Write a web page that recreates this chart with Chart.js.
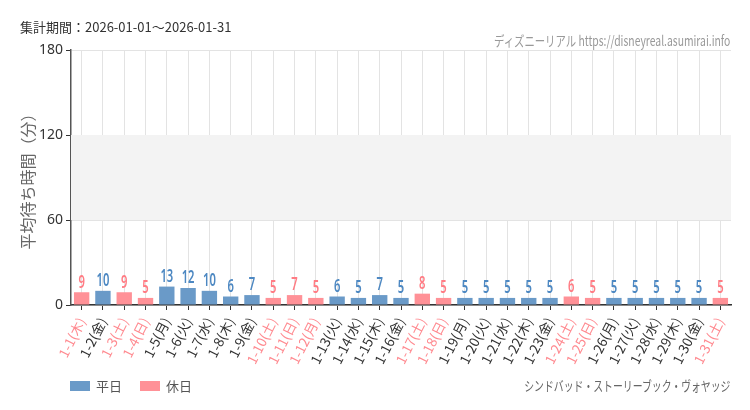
<!DOCTYPE html>
<html lang="ja">
<head>
<meta charset="utf-8">
<script src="https://cdn.jsdelivr.net/npm/chart.js@4/dist/chart.umd.min.js"></script>
<style>
  body { margin: 0; background: #fff; font-family: "Noto Sans CJK JP", "Noto Sans", sans-serif; }
  #wrap { position: relative; width: 750px; height: 410px; }
  canvas { position: absolute; left: 0; top: 0; }
  .txt { position: absolute; white-space: nowrap; }
  #period { left: 20px; top: 17px; font-size: 13px; color: #333; }
  #site { right: 20px; top: 30px; font-size: 14px; color: #999; transform: scaleX(0.74); transform-origin: right center; }
  #attr { right: 20px; top: 375px; font-size: 13.5px; color: #666; transform: scaleX(0.73); transform-origin: right center; }
  #legend { left: 70px; top: 376px; font-size: 13px; color: #555; display: flex; align-items: center; }
  #legend span.box { display: inline-block; width: 20px; height: 10px; margin-right: 6px; }
  #legend span.lab { margin-right: 18px; }
</style>
</head>
<body>
<div id="wrap">
  <canvas id="chart" width="750" height="410"></canvas>
  <div class="txt" id="period">集計期間：2026-01-01～2026-01-31</div>
  <div class="txt" id="site">ディズニーリアル https://disneyreal.asumirai.info</div>
  <div class="txt" id="attr">シンドバッド・ストーリーブック・ヴォヤッジ</div>
  <div class="txt" id="legend">
    <span class="box" style="background:#6a9ac8"></span><span class="lab">平日</span>
    <span class="box" style="background:#ff9197"></span><span class="lab">休日</span>
  </div>
</div>
<script>
// データ
const labels = ['1-1(木)','1-2(金)','1-3(土)','1-4(日)','1-5(月)','1-6(火)','1-7(水)','1-8(木)','1-9(金)','1-10(土)',
  '1-11(日)','1-12(月)','1-13(火)','1-14(水)','1-15(木)','1-16(金)','1-17(土)','1-18(日)','1-19(月)','1-20(火)',
  '1-21(水)','1-22(木)','1-23(金)','1-24(土)','1-25(日)','1-26(月)','1-27(火)','1-28(水)','1-29(木)','1-30(金)','1-31(土)'];
const waits = [9,10,9,5,13,12,10,6,7,5,7,5,6,5,7,5,8,5,5,5,5,5,5,6,5,5,5,5,5,5,5];
const holidays = [1,0,1,1,0,0,0,0,0,1,1,1,0,0,0,0,1,1,0,0,0,0,0,1,1,0,0,0,0,0,1];
const yTicks = [0, 60, 120, 180];

// 色
const barBlue = '#6a9ac8', barPink = '#ff9197';
const numBlue = '#4d88c2', numPink = '#ff7c84';
const tickPink = '#ff8a90', tickGray = '#333';

// 60〜120 の帯
const bandPlugin = {
  id: 'band',
  beforeDatasetsDraw(chart) {
    const { ctx, chartArea, scales } = chart;
    const y1 = scales.y.getPixelForValue(120);
    const y2 = scales.y.getPixelForValue(60);
    ctx.save();
    ctx.fillStyle = '#f3f3f3';
    ctx.fillRect(chartArea.left, y1, chartArea.right - chartArea.left, y2 - y1);
    ctx.restore();
  }
};

// 棒の上の数値（細めの字に見せるため横に縮める）
const valuePlugin = {
  id: 'values',
  afterDatasetsDraw(chart) {
    const { ctx } = chart;
    const meta = chart.getDatasetMeta(0);
    const sx = 0.66;
    ctx.save();
    ctx.font = '600 17px "Noto Sans", sans-serif';
    ctx.textAlign = 'center';
    ctx.textBaseline = 'bottom';
    meta.data.forEach((bar, i) => {
      ctx.save();
      ctx.translate(bar.x, bar.y - 1);
      ctx.scale(sx, 1);
      ctx.fillStyle = holidays[i] ? numPink : numBlue;
      ctx.fillText(waits[i], 0, 0);
      ctx.restore();
    });
    ctx.restore();
  }
};

new Chart(document.getElementById('chart'), {
  type: 'bar',
  data: {
    labels: labels,
    datasets: [{
      data: waits,
      backgroundColor: holidays.map(h => h ? barPink : barBlue),
      categoryPercentage: 0.76,
      barPercentage: 0.95
    }]
  },
  options: {
    responsive: false,
    animation: false,
    layout: { padding: { top: 50, right: 19, left: 0, bottom: 0 } },
    plugins: { legend: { display: false }, tooltip: { enabled: false } },
    scales: {
      x: {
        afterFit(scale) { scale.height = 105; },
        grid: { offset: false, color: '#e3e3e3', tickColor: '#333', tickLength: 5 },
        border: { color: '#333', width: 1.5 },
        ticks: {
          autoSkip: false,
          minRotation: 63, maxRotation: 63,
          padding: 5,
          color: ctx => holidays[ctx.index] ? tickPink : tickGray,
          font: { size: 13.5, family: '"Noto Sans CJK JP", sans-serif' }
        }
      },
      y: {
        min: 0, max: 180,
        afterFit(scale) { scale.width = 71; },
        afterBuildTicks(scale) { scale.ticks = yTicks.map(v => ({ value: v })); },
        grid: { color: '#e3e3e3', tickColor: '#333', tickLength: 5 },
        border: { color: '#555', width: 1.5 },
        ticks: { color: '#333', padding: 3, font: { size: 14, family: '"Noto Sans", sans-serif' } },
        title: {
          display: true, text: '平均待ち時間（分）', color: '#666',
          font: { size: 16, family: '"Noto Sans CJK JP", sans-serif' }, padding: { top: 18, bottom: 4 }
        }
      }
    }
  },
  plugins: [bandPlugin, valuePlugin]
});
</script>
</body>
</html>
